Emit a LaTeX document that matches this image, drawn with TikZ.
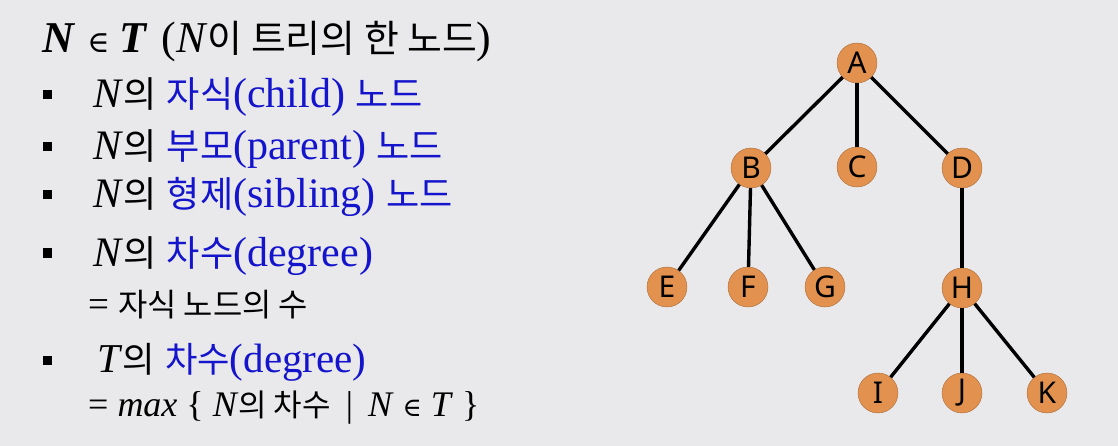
\documentclass[tikz,border=0pt]{standalone}
\usepackage{fontspec}
\usepackage{amsmath}
\usetikzlibrary{positioning}
\setmainfont{Liberation Serif}
\newfontfamily\kr[Scale=0.86]{Noto Sans CJK KR}
\newfontfamily\lettersf{Noto Sans}
\newfontfamily\symf{DejaVu Serif}
\definecolor{slidebg}{HTML}{E9E9EB}
\definecolor{nodeorange}{HTML}{E2914E}
\definecolor{textblue}{HTML}{1414CC}

\begin{document}
\begin{tikzpicture}[
                x=1pt, y=-1pt,
                vertex/.style={circle,draw=nodeorange!75!black,fill=nodeorange,minimum size=40pt,inner sep=0pt,font=\lettersf\fontsize{30}{30}\selectfont},
                edge/.style={line width=3.4pt,black},
                line/.style={anchor=base west,inner sep=0pt,font=\fontsize{42}{46}\selectfont},
                head/.style={anchor=base west,inner sep=0pt,font=\fontsize{44}{48}\selectfont},
                note/.style={anchor=base west,inner sep=0pt,font=\fontsize{36}{40}\selectfont},
                bullet/.style={fill=black,minimum size=9pt,inner sep=0pt}
            ]
                \fill[slidebg] (0,0) rectangle (1118,446);
                \useasboundingbox (0,0) rectangle (1118,446);
                % left text
                \node[head] (title) at (42,53) {\textbf{\textit{N}}\hspace{12pt}{\symf\fontsize{30}{30}\selectfont ∈}\hspace{10pt}\textbf{\textit{T}}\hspace{14pt}(\textit{N}{\kr 이 트리의 한 노드})};
                \foreach \k/\y in {1/95,2/147,3/195,4/253,5/360}
                    {
                    \node[bullet] (b\k) at (47,\y) {};
                }
                \node[line] (child) at (93,108) {\textit{N}{\kr 의} \color{textblue}{\kr 자식}(child) {\kr 노드}};
                \node[line] (parent) at (93,160) {\textit{N}{\kr 의} \color{textblue}{\kr 부모}(parent) {\kr 노드}};
                \node[line] (sibling) at (93,208) {\textit{N}{\kr 의} \color{textblue}{\kr 형제}(sibling) {\kr 노드}};
                \node[line] (ndeg) at (93,266) {\textit{N}{\kr 의} \color{textblue}{\kr 차수}(degree)};
                \node[note,font=\fontsize{37}{40}\selectfont] (ndef) at (88,316) {= {\kr 자식 노드의 수}};
                \node[line,font=\fontsize{41}{44}\selectfont] (tdeg) at (97,372) {\textit{T}{\kr 의} \color{textblue}{\kr 차수}(degree)};
                \node[note] (tdef) at (88,416) {= \textit{max} \{ \textit{N}{\kr 의 차수} \,|\, \textit{N} {\symf\fontsize{26}{28}\selectfont ∈} \textit{T} \}};
                % tree
                \foreach \name/\x/\y in {A/857/63,B/751/168,C/857/167,D/962/168,E/667/287,F/748/287,G/825/287,H/962/288,I/878/393,J/962/393,K/1047/393}
                    {
                    \node[vertex] (\name) at (\x,\y) {\name};
                }
                \foreach \a/\b in {A/B,A/C,A/D,B/E,B/F,B/G,D/H,H/I,H/J,H/K}
                    {
                    \draw[edge] (\a) -- (\b);
                }
            \end{tikzpicture}
\end{document}
